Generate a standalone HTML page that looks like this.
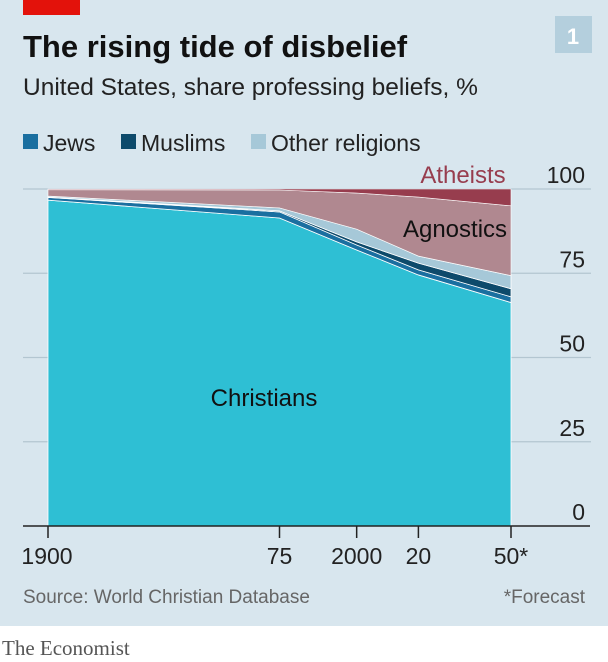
<!DOCTYPE html>
<html><head><meta charset="utf-8"><style>
body{margin:0;width:608px;height:662px;background:#fff;font-family:"Liberation Sans",sans-serif;overflow:hidden}
#card{position:absolute;left:0;top:0;width:608px;height:626px;background:#d8e6ee}
</style></head><body>
<div id="card">
<svg width="608" height="662" style="position:absolute;left:0;top:0" id="svg">
<rect x="23" y="0" width="57" height="15" fill="#e3120b"/>
<text x="23" y="57" font-size="31" font-weight="bold" fill="#111">The rising tide of disbelief</text>
<text x="23" y="95" font-size="24.5" fill="#222">United States, share professing beliefs, %</text>
<rect x="555" y="16" width="37" height="37" fill="#b4cfdd"/>
<text x="573" y="44" font-size="22" font-weight="bold" fill="#fff" text-anchor="middle">1</text>
<g>
<rect x="23" y="134" width="15" height="15" fill="#1a6fa0"/>
<text x="43" y="151" font-size="23" fill="#222">Jews</text>
<rect x="121" y="134" width="15" height="15" fill="#0d4a6b"/>
<text x="141" y="151" font-size="23" fill="#222">Muslims</text>
<rect x="251" y="134" width="15" height="15" fill="#a6c8d8"/>
<text x="271" y="151" font-size="23" fill="#222">Other religions</text>
</g>
<g id="grid"></g><g id="areas"></g><g id="axis"></g>
<text x="23" y="603" font-size="19" fill="#666">Source: World Christian Database</text>
<text x="585" y="603" font-size="19" fill="#666" text-anchor="end">*Forecast</text>
<text x="2" y="655" font-size="21" fill="#555" font-family="Liberation Serif,serif">The Economist</text>
</svg></div>
<script>
const years=[1900,1975,2000,2020,2050];
const christians=[96.7,91.4,81.9,74.5,66.3];
const jews=[0.8,1.8,1.5,1.5,1.7];
const muslims=[0.1,0.3,0.9,2,2.4];
const other=[0.3,0.9,3.8,2.1,3.9];
const agnostics=[1.9,5.3,10.7,17.5,20.7];
const atheists=[0.2,0.3,1.2,2.4,5];
const yTicks=[0,25,50,75,100];
const xTickYears=[1900,1975,2000,2020,2050];
const xTickLabels=["1900","75","2000","20","50*"];
const NS="http://www.w3.org/2000/svg";
const X=y=>48+(y-1900)*(463/150);
const Y=v=>526-v*3.37;
function mk(tag,attrs,parent){const e=document.createElementNS(NS,tag);for(const k in attrs)e.setAttribute(k,attrs[k]);document.getElementById(parent).appendChild(e);return e;}
yTicks.forEach(t=>{
 if(t>0){const l=mk('line',{x1:23,x2:591,y1:Y(t),y2:Y(t),stroke:'#b3c6d1','stroke-width':1.2},'grid');
 
 }
 const tx=mk('text',{x:585,y:Y(t)-6,'font-size':23,fill:'#222','text-anchor':'end'},'axis');
 tx.textContent=t;
 
 
});
const series=[christians,jews,muslims,other,agnostics,atheists];
const names=['christians','jews','muslims','other-religions','agnostics','atheists'];
const colors=['#2ebfd4','#1a6fa0','#0d4a6b','#a6c8d8','#b08890','#973d4e'];
let base=years.map(()=>0);
series.forEach((s,i)=>{
 const top=base.map((b,j)=>b+s[j]);
 let d=years.map((y,j)=>(j?'L':'M')+X(y)+','+Y(top[j])).join(' ');
 for(let j=years.length-1;j>=0;j--)d+=' L'+X(years[j])+','+Y(base[j]);
 const p=mk('path',{d:d+'Z',fill:colors[i],stroke:'#fff','stroke-width':i<4?0.8:0.6},'areas');
 
 
 base=top;
});
const lbls=[["Christians",264,406,'#111'],["Agnostics",455,237,'#111'],["Atheists",463,183,'#973d4e']];
lbls.forEach(l=>{const t=mk('text',{x:l[1],y:l[2],'font-size':24,fill:l[3],'text-anchor':'middle'},'areas');t.textContent=l[0];
 
 });
const bl=mk('line',{x1:23,x2:590,y1:526,y2:526,stroke:'#222','stroke-width':1.5},'axis');


xTickYears.forEach((y,i)=>{
 const tk=mk('line',{x1:X(y),x2:X(y),y1:526,y2:538,stroke:'#222','stroke-width':1.5},'axis');
 
 
 const t=mk('text',{x:X(y)+(i===0?-1:0),y:564,'font-size':23,fill:'#222','text-anchor':'middle'},'axis');
 t.textContent=xTickLabels[i];
 
 
});
</script>
</body></html>
